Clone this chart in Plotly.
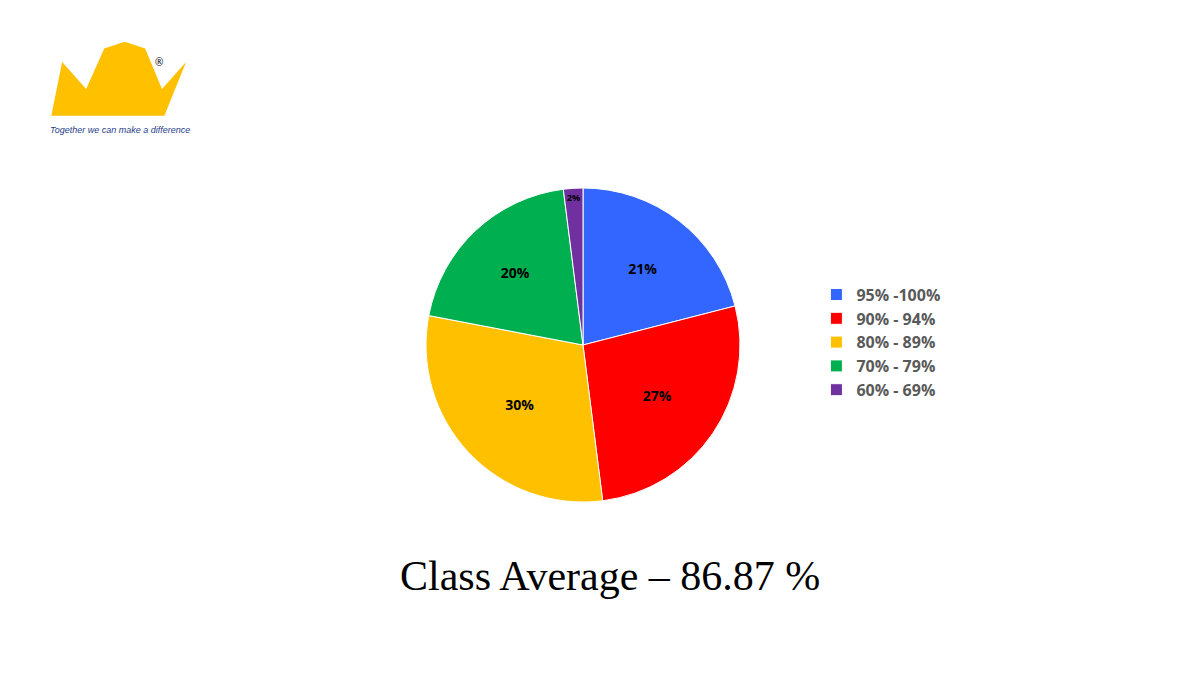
import plotly.graph_objects as go

labels = ["95% -100%", "90% - 94%", "80% - 89%", "70% - 79%", "60% - 69%"]
values = [21, 27, 30, 20, 2]
colors = ["#3366FF", "#FF0000", "#FFC000", "#00B050", "#7030A0"]

dx, dy = -8/1203, 7/674
fig = go.Figure(go.Pie(
    labels=labels, values=values, sort=False, direction="clockwise", rotation=0,
    marker=dict(colors=colors, line=dict(color="white", width=1)),
    texttemplate="<b>%{percent:.0%}</b>", textposition="inside",
    insidetextorientation="horizontal",
    textfont=dict(color="black", size=14, family="Open Sans"),
    domain=dict(x=[426/1203+dx, 740/1203+dx], y=[1-501/674+dy, 1-187/674+dy]),
))
fig.update_layout(
    width=1203, height=674, margin=dict(l=0, r=0, t=0, b=0),
    paper_bgcolor="white", plot_bgcolor="white",
    legend=dict(x=0.672, y=0.6, xanchor="left", yanchor="top",
                font=dict(size=16, color="#595959", family="Open Sans", weight="bold"),
                itemwidth=30),
    annotations=[
        dict(text="Class Average – 86.87 %", x=0.5, y=1-568/674, xref="paper", yref="paper",
             showarrow=False, font=dict(size=42, family="Liberation Serif", color="black"),
             yanchor="middle"),
        dict(text="<i>Together we can make a difference</i>", x=40/1203, y=1-122/674,
             xref="paper", yref="paper", showarrow=False, xanchor="left", yanchor="middle",
             font=dict(size=9, family="Liberation Sans", color="#1F3C88")),
        dict(text="®", x=145/1203, y=1-45/674, xref="paper", yref="paper", showarrow=False,
             font=dict(size=10, color="black")),
    ],
    shapes=[
        dict(type="path", xref="paper", yref="paper",
             path="M 0.036 0.84 L 0.045 0.92 L 0.065 0.88 L 0.08 0.94 L 0.097 0.95 L 0.114 0.94 L 0.128 0.88 L 0.148 0.92 L 0.13 0.84 Z",
             fillcolor="#FFC000", line=dict(width=0)),
    ],
)
fig.write_html("out.html")
